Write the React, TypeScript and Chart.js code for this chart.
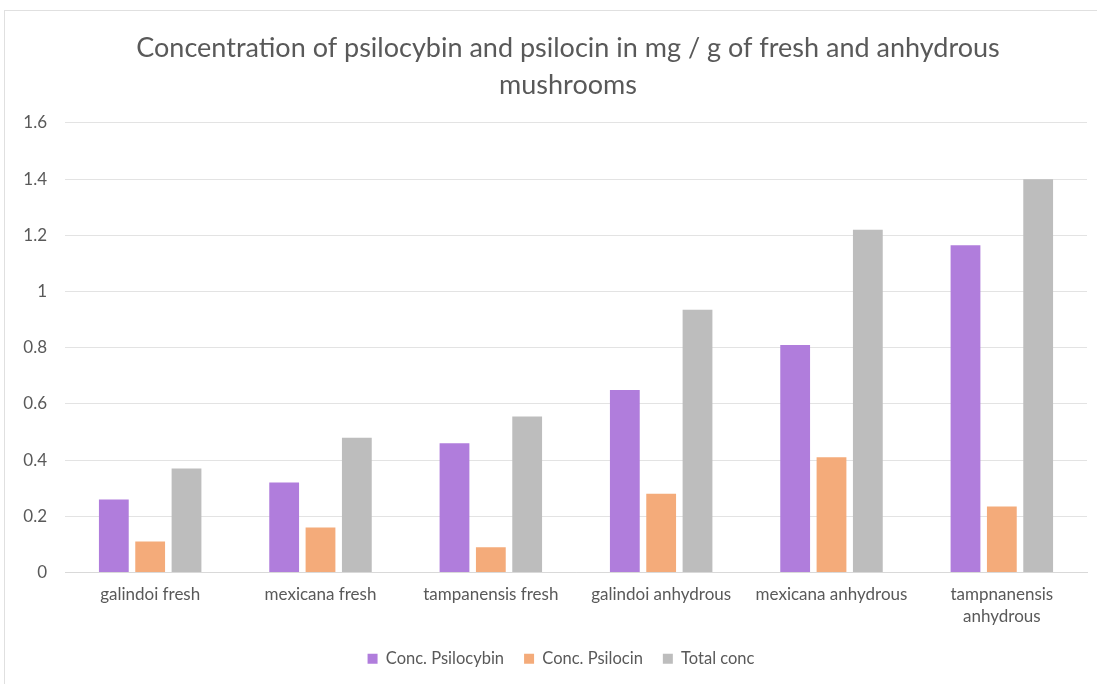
import React, { useEffect, useRef } from "react";
import { Chart, registerables } from "chart.js";

Chart.register(...registerables);

const categories: (string | string[])[] = [
  "galindoi fresh",
  "mexicana fresh",
  "tampanensis fresh",
  "galindoi anhydrous",
  "mexicana anhydrous",
  ["tampnanensis", "anhydrous"],
];
const psilocybin = [0.26, 0.32, 0.46, 0.65, 0.81, 1.165];
const psilocin = [0.11, 0.16, 0.09, 0.28, 0.41, 0.235];
const totalConc = [0.37, 0.48, 0.555, 0.935, 1.22, 1.4];
const titleLines = [
  "Concentration of psilocybin and psilocin in mg / g of fresh and anhydrous",
  "mushrooms",
];

const FONT = "Lato, 'Open Sans', sans-serif";

const shiftPlugin = {
  id: "shiftBlocks",
  afterLayout(chart: any) {
    const t = chart.titleBlock;
    if (t) {
      t.left += 14;
      t.right += 14;
    }
    const l = chart.legend;
    if (l) {
      l.left += 7;
      l.right += 7;
    }
  },
};

export default function App() {
  const ref = useRef<HTMLCanvasElement | null>(null);
  useEffect(() => {
    if (!ref.current) return;
    const chart = new Chart(ref.current, {
      type: "bar",
      data: {
        labels: categories,
        datasets: [
          { label: "Conc. Psilocybin", data: psilocybin, backgroundColor: "#b07ddc" },
          { label: "Conc. Psilocin", data: psilocin, backgroundColor: "#f4ab7a" },
          { label: "Total conc", data: totalConc, backgroundColor: "#bdbdbd" },
        ],
      },
      plugins: [shiftPlugin],
      options: {
        responsive: false,
        animation: false,
        datasets: { bar: { categoryPercentage: 0.64, barPercentage: 0.82 } },
        layout: { padding: { left: 21, right: 10, top: 30, bottom: 7 } },
        plugins: {
          tooltip: { enabled: false },
          title: {
            display: true,
            text: titleLines,
            color: "#595959",
            font: { family: FONT, size: 27, weight: "normal", lineHeight: 1.37 },
            padding: { top: 0, bottom: 19 },
          },
          legend: {
            position: "bottom",
            labels: {
              boxWidth: 10,
              boxHeight: 10,
              color: "#595959",
              font: { family: FONT, size: 16.5 },
              padding: 20,
            },
          },
        },
        scales: {
          x: {
            grid: { display: false },
            border: { display: true, color: "#d9d9d9", width: 1 },
            ticks: {
              color: "#595959",
              font: { family: FONT, size: 17, lineHeight: 1.3 },
              maxRotation: 0,
              autoSkip: false,
              padding: 3,
            },
            afterFit: (s: any) => {
              s.height = 58;
            },
          },
          y: {
            min: 0,
            max: 1.6,
            ticks: {
              stepSize: 0.2,
              color: "#595959",
              font: { family: FONT, size: 17 },
              padding: 18,
              callback: (v: any) => String(Number(Number(v).toFixed(1))),
            },
            grid: { color: "#e3e3e3", drawTicks: false },
            border: { display: false },
            afterFit: (s: any) => {
              s.width = 44;
            },
          },
        },
      },
    });
    return () => chart.destroy();
  }, []);
  return (
    <div style={{ position: "fixed", left: 0, top: 0, width: 1097, height: 684, background: "#fff" }}>
      <div
        style={{
          position: "absolute",
          left: 4,
          top: 10,
          width: 1100,
          height: 680,
          border: "1px solid #e0e0e0",
          boxSizing: "border-box",
        }}
      />
      <canvas ref={ref} width={1097} height={684} style={{ position: "absolute", left: 0, top: 0 }} />
    </div>
  );
}
